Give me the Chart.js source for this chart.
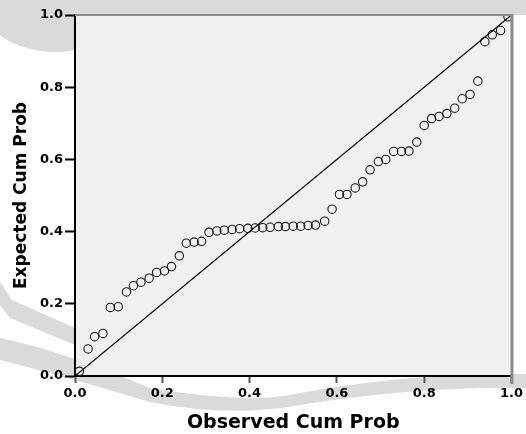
<!DOCTYPE html>
<html>
<head>
<meta charset="utf-8">
<script src="https://cdn.jsdelivr.net/npm/chart.js@4.4.1/dist/chart.umd.min.js"></script>
<style>
html,body{margin:0;padding:0;background:#fff;}
#wrap{position:relative;width:526px;height:434px;}
canvas{display:block;}
</style>
</head>
<body>
<div id="wrap"><canvas id="c" width="526" height="434"></canvas></div>
<script>
const xTicks = [0.0, 0.2, 0.4, 0.6, 0.8, 1.0];
const yTicks = [0.0, 0.2, 0.4, 0.6, 0.8, 1.0];
const observed = [0.010,0.030,0.045,0.064,0.081,0.099,0.118,0.134,0.151,0.170,0.187,0.205,0.221,0.239,0.255,0.273,0.290,0.307,0.325,0.342,0.360,0.377,0.396,0.413,0.430,0.447,0.466,0.482,0.500,0.517,0.534,0.551,0.572,0.589,0.606,0.623,0.642,0.659,0.676,0.695,0.712,0.730,0.748,0.765,0.783,0.800,0.817,0.834,0.852,0.870,0.887,0.905,0.923,0.939,0.956,0.975,0.992];
const expected = [0.013,0.075,0.109,0.118,0.190,0.192,0.233,0.250,0.260,0.271,0.287,0.291,0.303,0.333,0.368,0.371,0.373,0.398,0.402,0.404,0.406,0.408,0.409,0.410,0.411,0.412,0.414,0.414,0.415,0.415,0.417,0.418,0.429,0.462,0.503,0.503,0.521,0.538,0.571,0.594,0.600,0.622,0.622,0.623,0.648,0.694,0.713,0.719,0.727,0.742,0.768,0.780,0.817,0.926,0.945,0.957,0.995];
const refLine = [[0,0],[1,1]];

const points = observed.map((x,i)=>({x:x, y:expected[i]}));

const bgPlugin = {
  id:'bg',
  beforeDraw(chart){
    const ctx = chart.ctx, a = chart.chartArea;
    ctx.save();
    // faint watermark-like shapes
    ctx.fillStyle = '#dadada';
    ctx.fillRect(60,0,466,15);
    ctx.beginPath(); ctx.ellipse(55,0,75,52,0,0,Math.PI*2); ctx.fill();
    ctx.beginPath();
    ctx.moveTo(0,282); ctx.lineTo(12,300); ctx.lineTo(75,328);
    ctx.lineTo(75,345); ctx.lineTo(10,318); ctx.lineTo(0,305); ctx.closePath();
    ctx.fill();
    ctx.beginPath();
    ctx.moveTo(0,338);
    ctx.quadraticCurveTo(60,350,150,388);
    ctx.quadraticCurveTo(250,405,300,393);
    ctx.quadraticCurveTo(420,372,526,374);
    ctx.lineTo(526,388);
    ctx.quadraticCurveTo(420,386,300,405);
    ctx.quadraticCurveTo(230,418,150,402);
    ctx.quadraticCurveTo(60,375,0,360);
    ctx.closePath();
    ctx.fill();
    // plot background
    ctx.fillStyle = '#f0f0f0';
    ctx.fillRect(a.left, a.top, a.right-a.left, a.bottom-a.top);
    ctx.restore();
  },
  afterDraw(chart){
    const ctx = chart.ctx, a = chart.chartArea;
    ctx.save();
    ctx.strokeStyle = '#8a8a8a';
    ctx.lineWidth = 2;
    ctx.beginPath(); ctx.moveTo(a.left, a.top); ctx.lineTo(a.right, a.top); ctx.stroke();
    ctx.lineWidth = 3;
    ctx.beginPath(); ctx.moveTo(a.right+0.5, a.top-1); ctx.lineTo(a.right+0.5, a.bottom+8); ctx.stroke();
    ctx.restore();
  }
};

new Chart(document.getElementById('c'), {
  type:'scatter',
  data:{
    datasets:[
      {
        type:'line',
        data: refLine.map(p=>({x:p[0],y:p[1]})),
        borderColor:'#000', borderWidth:1.2, pointRadius:0, fill:false, tension:0
      },
      {
        data: points,
        pointRadius:4.2, pointBorderWidth:1.1,
        pointBorderColor:'#1a1a1a', pointBackgroundColor:'rgba(0,0,0,0)'
      }
    ]
  },
  options:{
    responsive:false, animation:false,
    layout:{padding:{top:15, right:11, left:0, bottom:0}},
    plugins:{legend:{display:false}, tooltip:{enabled:false}},
    scales:{
      x:{
        type:'linear', min:0, max:1,
        afterBuildTicks(s){ s.ticks = xTicks.map(v=>({value:v})); },
        afterFit(s){ s.height = 58; },
        grid:{drawOnChartArea:false, drawTicks:true, tickLength:7, tickColor:'#555', tickWidth:2},
        border:{color:'#000', width:2},
        ticks:{color:'#000', padding:3, font:{family:'DejaVu Sans', weight:'bold', size:13},
          callback:v=>v.toFixed(1)},
        title:{display:true, text:'Observed Cum Prob', color:'#000',
          font:{family:'DejaVu Sans', weight:'bold', size:19}, padding:{top:4,bottom:0}}
      },
      y:{
        type:'linear', min:0, max:1,
        afterBuildTicks(s){ s.ticks = yTicks.map(v=>({value:v})); },
        afterFit(s){ s.width = 75; },
        grid:{drawOnChartArea:false, drawTicks:true, tickLength:10, tickColor:'#000', tickWidth:2},
        border:{color:'#000', width:2},
        ticks:{color:'#000', padding:2, font:{family:'DejaVu Sans', weight:'bold', size:13},
          callback:v=>v.toFixed(1)},
        title:{display:true, text:'Expected Cum Prob', color:'#000',
          font:{family:'DejaVu Sans', weight:'bold', size:17}, padding:{top:11,bottom:4}}
      }
    }
  },
  plugins:[bgPlugin]
});
</script>
</body>
</html>
